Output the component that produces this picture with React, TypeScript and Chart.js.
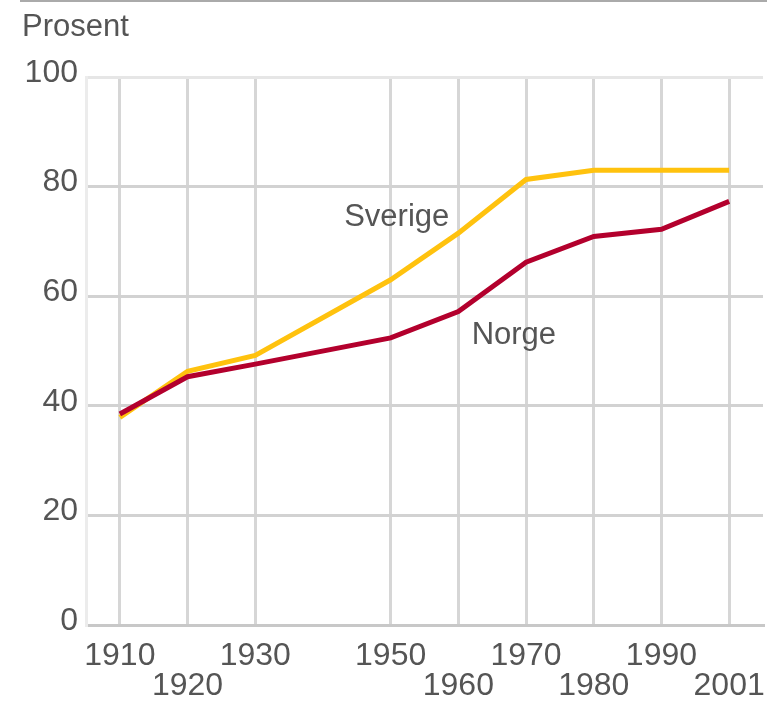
import React, { useEffect, useRef } from "react";
import { Chart, registerables } from "chart.js";

Chart.register(...registerables);

const years = ["1910", "1920", "1930", "1940", "1950", "1960", "1970", "1980", "1990", "2001"];
const hiddenYears = ["1940"];
const norge = [38.5, 45.3, 47.6, null, 52.4, 57.2, 66.2, 70.9, 72.2, 77.3];
const sverige = [37.9, 46.3, 49.2, null, 63.0, 71.5, 81.3, 83.0, 83.0, 83.0];
const yMin = 0;
const yMax = 100;
const yStep = 20;
const axisTitle = "Prosent";
const seriesNames = ["Norge", "Sverige"];
// label anchors in data units (category index, value)
const labelX = [5.82, 4.09];
const labelY = [51.2, 72.8];

const FONT = "'Liberation Sans', Arial, sans-serif";
const TEXT = "#555555";

export default function App() {
  const ref = useRef<HTMLCanvasElement | null>(null);

  useEffect(() => {
    if (!ref.current) return;
    const textPlugin = {
      id: "texts",
      afterDatasetsDraw(chart: any) {
        const ctx = chart.ctx;
        const xs = chart.scales.x;
        const ys = chart.scales.y;
        ctx.save();
        ctx.font = `31px ${FONT}`;
        ctx.fillStyle = TEXT;
        ctx.textBaseline = "alphabetic";
        ctx.textAlign = "left";
        ctx.fillText(axisTitle, 22, 36);
        ctx.textAlign = "center";
        seriesNames.forEach((n, i) => {
          ctx.fillText(n, xs.getPixelForValue(labelX[i]), ys.getPixelForValue(labelY[i]));
        });
        ctx.restore();
      },
    };

    const chart = new Chart(ref.current, {
      type: "line",
      data: {
        labels: years,
        datasets: [
          {
            label: seriesNames[0],
            data: norge,
            borderColor: "#B3002D",
            backgroundColor: "#B3002D",
            borderWidth: 5,
            pointRadius: 0,
            tension: 0,
            spanGaps: true,
          },
          {
            label: seriesNames[1],
            data: sverige,
            borderColor: "#FFC20E",
            backgroundColor: "#FFC20E",
            borderWidth: 5,
            pointRadius: 0,
            tension: 0,
            spanGaps: true,
          },
        ],
      },
      options: {
        responsive: false,
        animation: false,
        layout: { padding: { top: 77, right: 4, left: 0, bottom: 0 } },
        plugins: { legend: { display: false }, tooltip: { enabled: false } },
        scales: {
          x: {
            type: "category",
            offset: true,
            afterFit: (s: any) => {
              s.height = 77;
              s.paddingLeft = 0;
              s.paddingRight = 0;
            },
            grid: {
              drawTicks: false,
              lineWidth: 3,
              color: (c: any) =>
                c.index !== undefined && hiddenYears.includes(years[c.index]) ? "rgba(0,0,0,0)" : "#d6d6d6",
            },
            border: { display: true, color: "#c8c8c8", width: 3 },
            ticks: {
              autoSkip: false,
              maxRotation: 0,
              minRotation: 0,
              padding: 16,
              color: TEXT,
              font: { family: FONT, size: 32, lineHeight: "30px" },
              callback: (_v: any, i: number) => {
                const lab = years[i];
                if (hiddenYears.includes(lab)) return "";
                return i % 2 === 0 ? [lab] : ["", lab];
              },
            },
          },
          y: {
            min: yMin,
            max: yMax,
            afterFit: (s: any) => {
              s.width = 86;
            },
            grid: {
              drawTicks: false,
              lineWidth: 3,
              color: (c: any) => (c.tick && c.tick.value === yMax ? "#e6e6e6" : "#d2d2d2"),
            },
            border: { display: true, color: "#ececec", width: 3 },
            ticks: {
              stepSize: yStep,
              padding: 8,
              labelOffset: -4,
              color: TEXT,
              font: { family: FONT, size: 32 },
            },
          },
        },
      },
      plugins: [textPlugin],
    } as any);
    return () => chart.destroy();
  }, []);

  return (
    <div style={{ position: "absolute", left: 0, top: 0, width: 767, height: 702, background: "#fff" }}>
      <div
        style={{ position: "absolute", left: 20, top: 0, width: 747, height: 0, borderTop: "2px solid #aaaaaa" }}
      />
      <canvas ref={ref} width={767} height={702} style={{ display: "block" }} />
    </div>
  );
}
